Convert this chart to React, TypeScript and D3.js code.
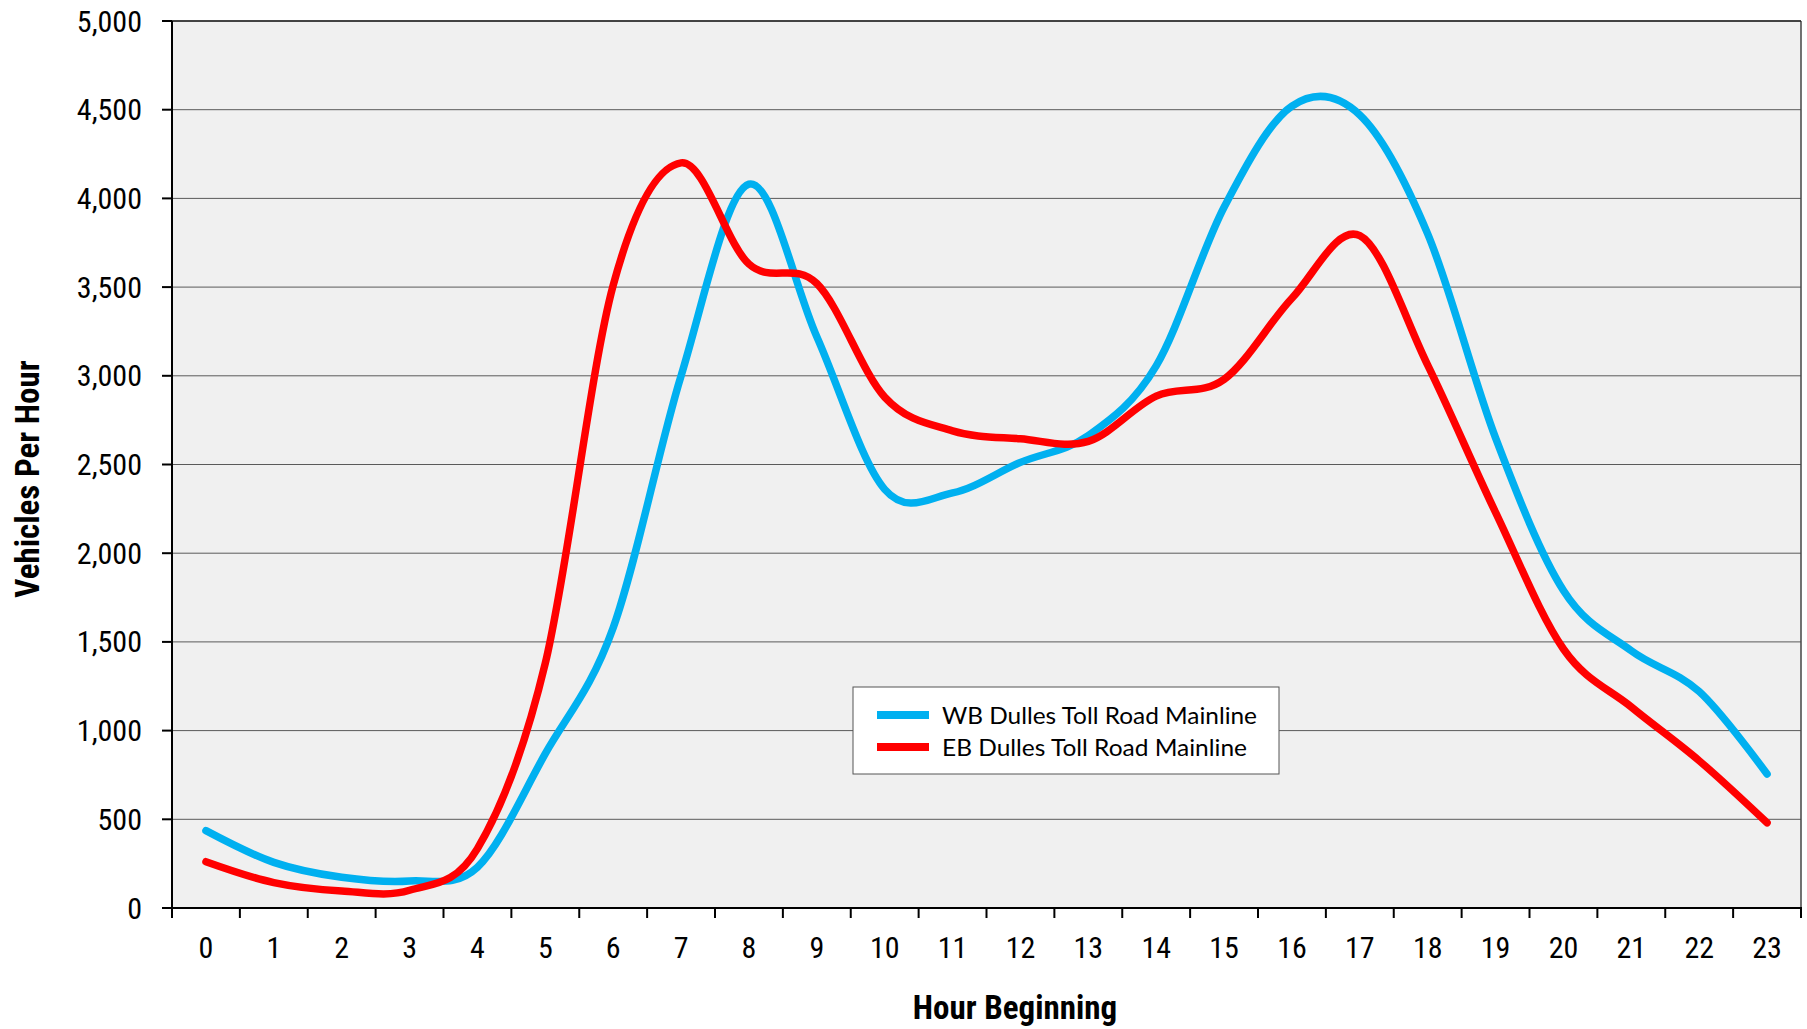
import React from "react";
import * as d3 from "d3";

const hours = [0,1,2,3,4,5,6,7,8,9,10,11,12,13,14,15,16,17,18,19,20,21,22,23];
const wbValues = [436,257,173,152,230,870,1580,3000,4080,3220,2360,2340,2512,2663,3056,3950,4520,4470,3800,2650,1790,1450,1220,755];
const ebValues = [261,143,96,100,335,1380,3510,4200,3630,3520,2880,2690,2645,2630,2885,2980,3437,3790,3060,2230,1460,1133,830,480];
const yTicks = [0,500,1000,1500,2000,2500,3000,3500,4000,4500,5000];
const seriesNames = ["WB Dulles Toll Road Mainline", "EB Dulles Toll Road Mainline"];
const seriesColors = ["#00B0F0", "#FF0000"];
const xTitle = "Hour Beginning";
const yTitle = "Vehicles Per Hour";

const W = 1807, H = 1029;
const L = 172, R = 1801, T = 21, B = 908;
const narrow = "'Liberation Sans Narrow', 'Arial Narrow', 'Roboto Condensed', sans-serif";

export default function App() {
  const x = d3.scaleLinear().domain([-0.5, 23.5]).range([L, R]);
  const y = d3.scaleLinear().domain([0, 5000]).range([B, T]);
  const line = d3.line<number>()
    .x((_, i) => x(hours[i]))
    .y((d) => y(d))
    .curve(d3.curveCardinal.tension(0));
  const series = [wbValues, ebValues];
  const boundaries = d3.range(hours.length + 1).map((i) => i - 0.5);

  return (
    <svg width={W} height={H} style={{ position: "absolute", left: 0, top: 0, background: "#fff" }}>
      <rect x={L} y={T} width={R - L} height={B - T} fill="#F0F0F0" />
      {yTicks.filter((t) => t > 0).map((t) => (
        <line key={"g" + t} x1={L} x2={R} y1={y(t)} y2={y(t)} stroke="#5a5a5a" strokeWidth={1} />
      ))}
      <line x1={R} x2={R} y1={T} y2={B} stroke="#444" strokeWidth={1.5} />
      <line x1={L} x2={R} y1={T} y2={T} stroke="#222" strokeWidth={1.5} />
      {/* y ticks */}
      {yTicks.map((t) => (
        <g key={"y" + t}>
          <line x1={L - 10} x2={L} y1={y(t)} y2={y(t)} stroke="#000" strokeWidth={2} />
          <text x={142} y={y(t) + 10.5} textAnchor="end" fontFamily={narrow} fontSize={30} fill="#000">
            {d3.format(",")(t)}
          </text>
        </g>
      ))}
      {/* x ticks */}
      {boundaries.map((b) => (
        <line key={"xt" + b} x1={x(b)} x2={x(b)} y1={B} y2={B + 10} stroke="#000" strokeWidth={2} />
      ))}
      {hours.map((h) => (
        <text key={"xl" + h} x={x(h)} y={958} textAnchor="middle" fontFamily={narrow} fontSize={30} fill="#000">
          {h}
        </text>
      ))}
      {/* axes */}
      <line x1={L} x2={L} y1={T} y2={B + 1} stroke="#000" strokeWidth={2} />
      <line x1={L - 1} x2={R + 1} y1={B} y2={B} stroke="#000" strokeWidth={2} />
      {/* series */}
      {series.map((s, i) => (
        <path key={"s" + i} d={line(s) || ""} fill="none" stroke={seriesColors[i]} strokeWidth={7.5}
          strokeLinecap="round" strokeLinejoin="round" />
      ))}
      {/* legend */}
      <rect x={853} y={687} width={426} height={87} fill="#fff" stroke="#555" strokeWidth={1} />
      {seriesNames.map((n, i) => (
        <g key={"lg" + i}>
          <line x1={877} x2={929} y1={715 + i * 32} y2={715 + i * 32} stroke={seriesColors[i]} strokeWidth={8} />
          <text x={942} y={724 + i * 32} fontFamily="Lato, 'Open Sans', sans-serif" fontSize={24} fill="#000"
            textLength={i === 0 ? 315 : 305} lengthAdjust="spacingAndGlyphs">
            {n}
          </text>
        </g>
      ))}
      {/* titles */}
      <text x={1015} y={1019} textAnchor="middle" fontFamily={narrow} fontWeight="bold" fontSize={33} fill="#000">
        {xTitle}
      </text>
      <text transform={`translate(39,479) rotate(-90)`} textAnchor="middle" fontFamily={narrow} fontWeight="bold" fontSize={33} fill="#000">
        {yTitle}
      </text>
    </svg>
  );
}
